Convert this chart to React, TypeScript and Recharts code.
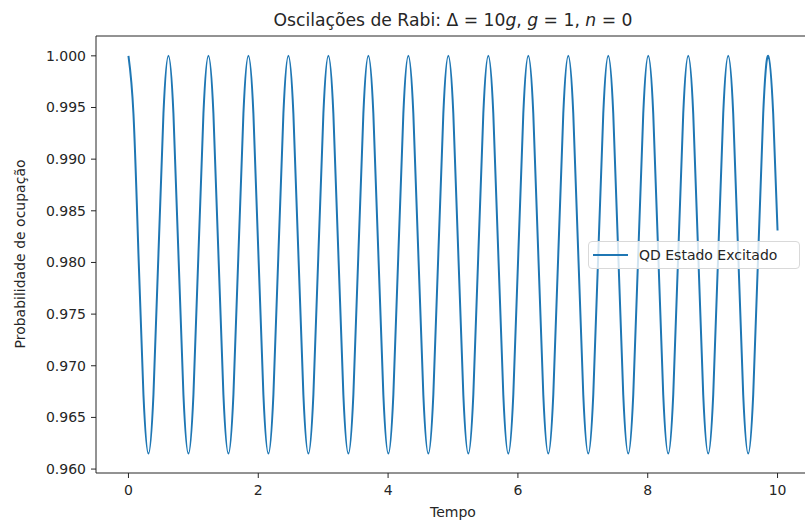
import { LineChart, Line, XAxis, YAxis, ReferenceLine, Label } from "recharts";

// tempo (eixo x): ~8 amostras por período (~0.616)
const tempo = [
  0, 0.077, 0.154, 0.231, 0.308, 0.385, 0.462, 0.539,
  0.616, 0.693, 0.77, 0.847, 0.924, 1.001, 1.078, 1.155,
  1.232, 1.309, 1.386, 1.463, 1.54, 1.617, 1.694, 1.771,
  1.848, 1.925, 2.002, 2.079, 2.156, 2.233, 2.31, 2.387,
  2.464, 2.541, 2.618, 2.695, 2.772, 2.849, 2.926, 3.003,
  3.08, 3.157, 3.234, 3.311, 3.388, 3.465, 3.542, 3.619,
  3.696, 3.773, 3.85, 3.927, 4.004, 4.081, 4.158, 4.235,
  4.312, 4.389, 4.466, 4.543, 4.62, 4.697, 4.774, 4.851,
  4.928, 5.005, 5.082, 5.159, 5.236, 5.313, 5.39, 5.467,
  5.544, 5.621, 5.698, 5.775, 5.852, 5.929, 6.006, 6.083,
  6.16, 6.237, 6.314, 6.391, 6.468, 6.545, 6.622, 6.699,
  6.776, 6.853, 6.93, 7.007, 7.084, 7.161, 7.238, 7.315,
  7.392, 7.469, 7.546, 7.623, 7.7, 7.777, 7.854, 7.931,
  8.008, 8.085, 8.162, 8.239, 8.316, 8.393, 8.47, 8.547,
  8.624, 8.701, 8.778, 8.855, 8.932, 9.009, 9.086, 9.163,
  9.24, 9.317, 9.394, 9.471, 9.548, 9.625, 9.702, 9.779,
  9.856, 9.933, 10.0,
];

// probabilidade do estado excitado
const excitado = [
  1.0, 0.9944, 0.9808, 0.9672, 0.9615, 0.9672, 0.9808, 0.9944,
  1.0, 0.9944, 0.9808, 0.9672, 0.9615, 0.9672, 0.9808, 0.9944,
  1.0, 0.9944, 0.9808, 0.9672, 0.9615, 0.9672, 0.9808, 0.9944,
  1.0, 0.9944, 0.9808, 0.9672, 0.9615, 0.9672, 0.9808, 0.9944,
  1.0, 0.9944, 0.9808, 0.9672, 0.9615, 0.9672, 0.9808, 0.9944,
  1.0, 0.9944, 0.9808, 0.9672, 0.9615, 0.9672, 0.9808, 0.9944,
  1.0, 0.9944, 0.9808, 0.9672, 0.9615, 0.9672, 0.9808, 0.9944,
  1.0, 0.9944, 0.9808, 0.9672, 0.9615, 0.9672, 0.9808, 0.9944,
  1.0, 0.9944, 0.9808, 0.9672, 0.9615, 0.9672, 0.9808, 0.9944,
  1.0, 0.9944, 0.9808, 0.9672, 0.9615, 0.9672, 0.9808, 0.9944,
  1.0, 0.9944, 0.9808, 0.9672, 0.9615, 0.9672, 0.9808, 0.9944,
  1.0, 0.9944, 0.9808, 0.9672, 0.9615, 0.9672, 0.9808, 0.9944,
  1.0, 0.9944, 0.9808, 0.9672, 0.9615, 0.9672, 0.9808, 0.9944,
  1.0, 0.9944, 0.9808, 0.9672, 0.9615, 0.9672, 0.9808, 0.9944,
  1.0, 0.9944, 0.9808, 0.9672, 0.9615, 0.9672, 0.9808, 0.9944,
  1.0, 0.9944, 0.9808, 0.9672, 0.9615, 0.9672, 0.9808, 0.9944,
  1.0, 0.9944, 0.9831,
];

const xTicks = [0, 2, 4, 6, 8, 10];
const yTicks = [0.96, 0.965, 0.97, 0.975, 0.98, 0.985, 0.99, 0.995, 1.0];

const font = "'DejaVu Sans', sans-serif";
const ink = "#262626";
const azul = "#1f77b4";

const X_MIN = -0.5;
const X_MAX = 10.5;
const Y_MIN = 0.95962;
const Y_MAX = 1.00192;

export default function App() {
  const data = tempo.map((t, i) => ({ t, p: excitado[i] }));

  return (
    <div
      style={{
        position: "absolute",
        left: 0,
        top: 0,
        width: 805,
        height: 525,
        overflow: "hidden",
        background: "#fff",
        fontFamily: font,
      }}
    >
      <div
        style={{
          position: "absolute",
          left: 101,
          top: 10,
          width: 704,
          textAlign: "center",
          fontSize: 17.2,
          lineHeight: "20px",
          color: ink,
          whiteSpace: "nowrap",
        }}
      >
        Oscilações de Rabi: Δ = 10<i>g</i>, <i>g</i> = 1, <i>n</i> = 0
      </div>

      <LineChart
        width={805}
        height={525}
        data={data}
        margin={{ top: 36, right: -5, left: 0, bottom: 0 }}
      >
        <XAxis
          dataKey="t"
          type="number"
          domain={[X_MIN, X_MAX]}
          ticks={xTicks}
          height={52}
          stroke={ink}
          tickSize={5}
          tickMargin={7}
          tick={{ fill: ink, fontSize: 14, fontFamily: font }}
        />
        <YAxis
          type="number"
          domain={[Y_MIN, Y_MAX]}
          ticks={yTicks}
          width={96}
          stroke={ink}
          tickSize={5}
          tickMargin={5}
          tickFormatter={(v: number) => v.toFixed(3)}
          tick={{ fill: ink, fontSize: 14, fontFamily: font }}
        >
          <Label
            content={() => (
              <text
                x={20}
                y={254}
                transform="rotate(-90 20 254)"
                textAnchor="middle"
                dominantBaseline="central"
                fill={ink}
                fontSize={14}
                fontFamily={font}
              >
                Probabilidade de ocupação
              </text>
            )}
          />
        </YAxis>
        <ReferenceLine y={Y_MAX} stroke={ink} />
        <Line
          type="natural"
          dataKey="p"
          stroke={azul}
          strokeWidth={2}
          dot={false}
          isAnimationActive={false}
        />
      </LineChart>

      <div
        style={{
          position: "absolute",
          left: 101,
          top: 504,
          width: 704,
          textAlign: "center",
          fontSize: 14,
          lineHeight: "16px",
          color: ink,
        }}
      >
        Tempo
      </div>

      <div
        style={{
          position: "absolute",
          left: 588,
          top: 241,
          width: 212,
          height: 28,
          boxSizing: "border-box",
          border: "1px solid #d9d9d9",
          borderRadius: 4,
          background: "rgba(255,255,255,0.8)",
          display: "flex",
          alignItems: "center",
          fontSize: 14,
          color: ink,
          whiteSpace: "nowrap",
        }}
      >
        <span
          style={{
            display: "inline-block",
            width: 35,
            height: 2,
            background: azul,
            marginLeft: 4,
            marginRight: 11,
          }}
        />
        QD Estado Excitado
      </div>
    </div>
  );
}
